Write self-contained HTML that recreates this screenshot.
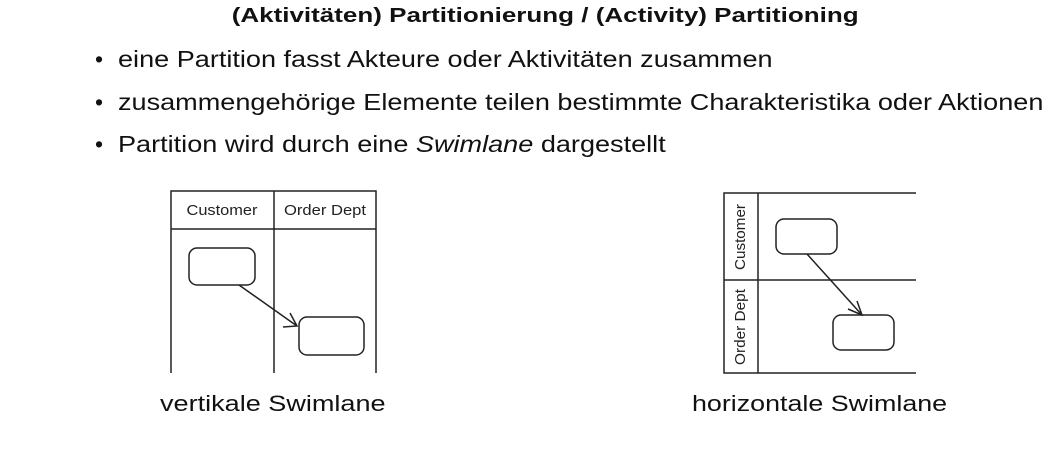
<!DOCTYPE html>
<html><head><meta charset="utf-8"><style>
body{margin:0;width:1063px;height:455px;background:#fff;position:relative;font-family:"Liberation Sans",sans-serif;color:#111;overflow:hidden}
.t{position:absolute;white-space:nowrap;transform-origin:0 50%}
</style></head><body>
<div class="t" style="left:18px;width:1063px;text-align:center;top:5px;font-size:20px;font-weight:bold;transform:scaleX(1.3);transform-origin:546px 50%">(Aktivitäten) Partitionierung / (Activity) Partitioning</div>
<div class="t" style="left:95px;top:46px;font-size:23px">•</div>
<div class="t" style="left:95px;top:89px;font-size:23px">•</div>
<div class="t" style="left:95px;top:131px;font-size:23px">•</div>
<div class="t" style="left:118px;top:46px;font-size:23px;transform:scaleX(1.177)">eine Partition fasst Akteure oder Aktivitäten zusammen</div>
<div class="t" style="left:118px;top:89px;font-size:23px;transform:scaleX(1.177)">zusammengehörige Elemente teilen bestimmte Charakteristika oder Aktionen</div>
<div class="t" style="left:118px;top:131px;font-size:23px;transform:scaleX(1.177)">Partition wird durch eine <i>Swimlane</i> dargestellt</div>
<div class="t" style="left:160px;top:391px;font-size:22px;transform:scaleX(1.23)">vertikale Swimlane</div>
<div class="t" style="left:692px;top:391px;font-size:22px;transform:scaleX(1.22)">horizontale Swimlane</div>
<svg width="1063" height="455" style="position:absolute;left:0;top:0" font-family="Liberation Sans, sans-serif">
<g stroke="#222" stroke-width="1.5" fill="none">
<path d="M171 373V191H376V373M274 191V373M171 229H376"/>
<rect x="189" y="248" width="66" height="37" rx="8"/>
<rect x="299" y="317" width="65" height="38" rx="8"/>
<path d="M239 285L297 326M283 327L297 326L290 313"/>
<path d="M916 193H724V373H916M758 193V373M724 280H916"/>
<rect x="776" y="219" width="61" height="35" rx="8"/>
<rect x="833" y="315" width="61" height="35" rx="8"/>
<path d="M807 254L862 315M857 301L862 315L848 309"/>
</g>
<g fill="#222" font-size="15">
<text x="222" y="215" text-anchor="middle" textLength="71" lengthAdjust="spacingAndGlyphs">Customer</text>
<text x="325" y="215" text-anchor="middle" textLength="82" lengthAdjust="spacingAndGlyphs">Order Dept</text>
<text transform="translate(745 237) rotate(-90)" text-anchor="middle" textLength="66" lengthAdjust="spacingAndGlyphs">Customer</text>
<text transform="translate(745 327) rotate(-90)" text-anchor="middle" textLength="76" lengthAdjust="spacingAndGlyphs">Order Dept</text>
</g>
</svg>
</body></html>
